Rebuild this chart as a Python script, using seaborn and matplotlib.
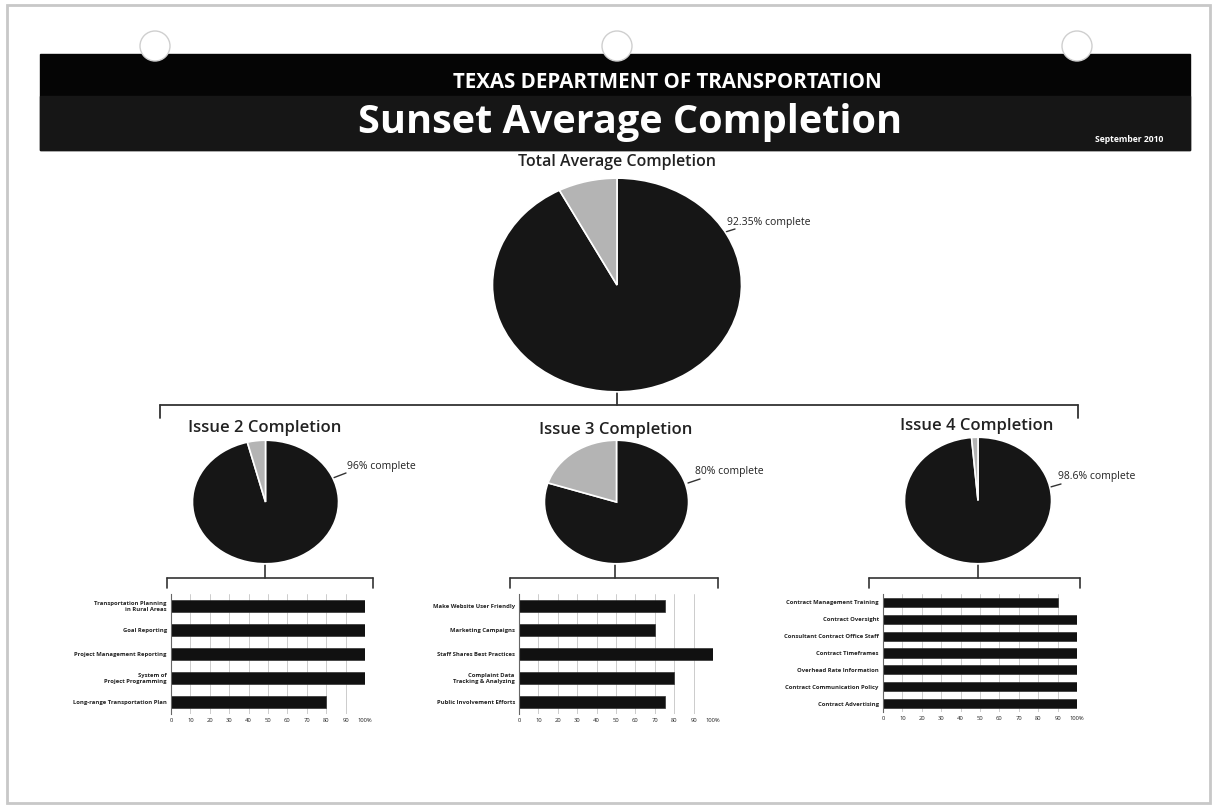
import matplotlib
matplotlib.use('Agg')
import matplotlib.pyplot as plt
import seaborn as sns
from matplotlib.patches import Rectangle, Circle

sns.set_theme(style='white')
plt.rcParams['font.family'] = ['Open Sans', 'DejaVu Sans']

W, H = 1215, 809

# ---- data ----
total_title = 'Total Average Completion'
total_pct = 92.35

issue_titles = ['Issue 2 Completion', 'Issue 3 Completion', 'Issue 4 Completion']
issue_pct = [96, 80, 98.6]

issue2_tasks = ['Transportation Planning\nin Rural Areas', 'Goal Reporting',
                'Project Management Reporting', 'System of\nProject Programming',
                'Long-range Transportation Plan']
issue2_vals = [100, 100, 100, 100, 80]

issue3_tasks = ['Make Website User Friendly', 'Marketing Campaigns',
                'Staff Shares Best Practices', 'Complaint Data\nTracking & Analyzing',
                'Public Involvement Efforts']
issue3_vals = [75, 70, 100, 80, 75]

issue4_tasks = ['Contract Management Training', 'Contract Oversight',
                'Consultant Contract Office Staff', 'Contract Timeframes',
                'Overhead Rate Information', 'Contract Communication Policy',
                'Contract Advertising']
issue4_vals = [90, 100, 100, 100, 100, 100, 100]

tick_vals = [0, 10, 20, 30, 40, 50, 60, 70, 80, 90, 100]
tick_labels = ['0', '10', '20', '30', '40', '50', '60', '70', '80', '90', '100%']

DARK = '#161616'
LIGHT = '#b4b4b4'


def ax_at(fig, x0, y0, x1, y1):
    # pixel box (top-left origin) -> figure axes
    return fig.add_axes([x0 / W, 1 - y1 / H, (x1 - x0) / W, (y1 - y0) / H])


fig = plt.figure(figsize=(W / 100, H / 100), dpi=100)

# background layer in pixel coordinates
bg = fig.add_axes([0, 0, 1, 1], zorder=0)
bg.set_xlim(0, W)
bg.set_ylim(H, 0)
bg.axis('off')

bg.add_patch(Rectangle((7, 5), 1203, 798, fill=False, edgecolor='#c8c8c8', lw=2))
bg.add_patch(Rectangle((40, 54), 1150, 96, color='#050505'))
bg.add_patch(Rectangle((40, 96), 1150, 54, color='#161616'))
for hx in [155, 617, 1077]:
    bg.add_patch(Circle((hx, 46), 15, facecolor='white', edgecolor='#cfcfcf', lw=1))

bg.text(667, 82, 'TEXAS DEPARTMENT OF TRANSPORTATION', color='white',
        fontsize=14.8, fontweight='bold', ha='center', va='center')
bg.text(630, 122, 'Sunset Average Completion', color='white',
        fontsize=28.5, fontweight='bold', ha='center', va='center')
bg.text(1129, 139, 'September 2010', color='white', fontsize=6.2,
        fontweight='bold', ha='center', va='center')

bg.text(617, 162, total_title, fontsize=11.5, fontweight='semibold',
        ha='center', va='center', color='#222222')

# big bracket
lc = '#333333'
bg.plot([160, 1078], [405, 405], color=lc, lw=1.3)
bg.plot([160, 160], [405, 418], color=lc, lw=1.3)
bg.plot([1078, 1078], [405, 418], color=lc, lw=1.3)
bg.plot([617, 617], [392, 405], color=lc, lw=1.3)

# small brackets
for x0, xm, x1 in [(167, 265, 373), (510, 615, 718), (869, 978, 1080)]:
    bg.plot([x0, x1], [578, 578], color=lc, lw=1.2)
    bg.plot([x0, x0], [578, 588], color=lc, lw=1.2)
    bg.plot([x1, x1], [578, 588], color=lc, lw=1.2)
    bg.plot([xm, xm], [565, 578], color=lc, lw=1.2)

# pie titles
for (cx, ty), title in zip([(265, 428), (616, 430), (977, 426)], issue_titles):
    bg.text(cx, ty, title, fontsize=12, fontweight='semibold',
            ha='center', va='center', color='#222222')

# pie labels with leader lines
label_spots = [
    (total_pct, (719, 234), (735, 229), (727, 222)),
    (issue_pct[0], (333, 478), (346, 473), (347, 466)),
    (issue_pct[1], (688, 483), (700, 479), (695, 471)),
    (issue_pct[2], (1047, 488), (1061, 484), (1058, 476)),
]
for pct, p0, p1, tp in label_spots:
    bg.plot([p0[0], p1[0]], [p0[1], p1[1]], color=lc, lw=1)
    bg.text(tp[0], tp[1], f'{pct:g}% complete', fontsize=7.5,
            ha='left', va='center', color='#222222')


def draw_pie(box, pct):
    ax = ax_at(fig, *box)
    ax.pie([pct, 100 - pct], colors=[DARK, LIGHT], startangle=90,
           counterclock=False, wedgeprops=dict(edgecolor='white', linewidth=1.2))
    ax.set_xlim(-1.02, 1.02)
    ax.set_ylim(-1.02, 1.02)
    ax.set_aspect('auto')
    ax.axis('off')


draw_pie((490, 176, 744, 394), total_pct)
draw_pie((191, 439, 340, 565), issue_pct[0])
draw_pie((543, 439, 690, 565), issue_pct[1])
draw_pie((903, 436, 1053, 565), issue_pct[2])


def draw_bars(box, tasks, vals, width):
    ax = ax_at(fig, *box)
    sns.barplot(x=vals, y=tasks, color='#111111', width=width, orient='h',
                ax=ax, edgecolor='#333333', linewidth=0.5)
    ax.set_xlim(0, 100)
    ax.set_xticks(tick_vals)
    ax.set_xticklabels(tick_labels)
    ax.set_xlabel('')
    ax.set_ylabel('')
    ax.xaxis.grid(True, color='#c4c4c4', lw=0.6)
    ax.set_axisbelow(True)
    for s in ['top', 'right', 'bottom']:
        ax.spines[s].set_visible(False)
    ax.spines['left'].set_color('#666666')
    ax.spines['left'].set_linewidth(0.8)
    ax.tick_params(axis='x', labelsize=4.2, length=0, pad=3, colors='#222222')
    ax.tick_params(axis='y', labelsize=4.2, length=0, pad=3, colors='#222222')
    for t in ax.get_yticklabels():
        t.set_fontweight('bold')


draw_bars((171, 594, 365, 714), issue2_tasks, issue2_vals, 0.5)
draw_bars((519, 594, 713, 714), issue3_tasks, issue3_vals, 0.5)
draw_bars((883, 594, 1077, 712), issue4_tasks, issue4_vals, 0.55)

fig.savefig('out.png', dpi=100)
